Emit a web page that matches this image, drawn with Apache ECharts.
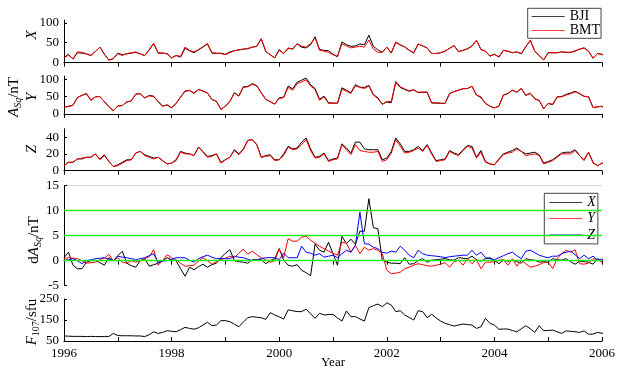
<!DOCTYPE html>
<html>
<head>
<meta charset="utf-8">
<script src="https://cdn.jsdelivr.net/npm/echarts@6/dist/echarts.min.js"></script>
<style>
html, body { margin: 0; padding: 0; background: #fff; }
#main { width: 618px; height: 374px; }
</style>
</head>
<body>
<div id="main"></div>
<script>
// monthly values, Jan 1996 .. Feb 2006
var startYear = 1996;
var yearTicks = [1996, 1998, 2000, 2002, 2004, 2006];

var xBJI = [13,21,9,25,24,22,18,28,39,21, 7,10,24,20,22,24,26,22,18,32, 48,24,24,23,12,18,14,36,30,25,
  32,39,47,24,23,24,21,27,30,32, 34,35,39,41,60,28,20,12,33,23, 36,34,47,39,37,45,65,33,31,30,
  21,15,52,45,41,42,47,45,69,41, 32,26,39,24,51,44,40,31,24,47, 42,37,23,23,25,29,36,43,28,31,
  35,42,56,33,29,17,21,14,31,29, 25,27,22,40,56,29,18,7,25,25, 25,27,26,26,29,34,37,29,11,23, 21,12];
var xBMT = [12,19,10,27,26,22,18,28,39,22, 6,10,23,18,23,25,27,22,18,33, 49,25,24,22,12,18,16,39,31,27,
  33,40,48,25,24,23,20,25,30,32, 34,36,39,41,60,29,20,12,31,23, 37,35,48,41,39,48,62,31,29,26,
  20,16,47,42,37,39,41,39,57,34, 26,26,39,25,52,45,39,32,25,47, 42,37,23,23,25,29,36,43,27,31,
  35,41,56,33,29,16,21,15,31,29, 25,27,23,40,56,29,18,7,25,25, 25,27,26,26,30,34,37,29,12,23, 21,12];

var yBJI = [19,22,25,47,53,58,39,49,50,35, 21,9,23,24,34,37,57,58,46,53, 51,35,22,26,18,30,48,65,67,59,
  70,66,60,41,36,13,22,36,61,52, 78,79,87,81,61,42,35,28,46,48, 80,72,91,97,103,84,73,42,51,32,
  31,31,75,68,61,84,77,76,82,56, 46,28,34,32,91,76,70,65,69,61, 62,62,31,31,30,30,58,64,68,72,
  73,79,54,47,30,22,17,22,54,58, 68,62,73,53,59,43,38,15,30,26, 49,50,56,60,65,58,50,49,18,20, 22,7];
var yBMT = [19,21,24,47,53,59,39,49,50,35, 20,9,22,24,35,37,57,58,46,52, 49,36,22,25,17,30,49,66,68,60,
  70,65,60,42,36,13,22,35,60,51, 76,78,85,80,60,42,35,28,44,47, 76,68,87,92,98,80,70,39,49,30,
  30,30,71,65,59,81,76,73,80,54, 44,27,36,35,94,78,72,66,70,62, 63,63,32,32,31,30,59,64,68,73,
  73,80,54,49,30,22,17,22,54,59, 68,63,73,54,60,44,39,15,30,28, 49,49,54,58,63,59,51,49,18,20, 22,8];

var zBJI = [6,10,10,14,14,16,16,20,14,19, 11,5,7,10,13,13,21,23,19,17, 15,16,12,8,9,13,23,21,20,18,
  28,23,17,18,20,10,13,16,25,20, 26,36,37,31,16,18,19,13,13,20, 29,26,27,34,39,26,16,17,21,12,
  14,15,32,27,21,34,34,26,25,25, 25,13,15,23,39,32,23,23,25,29, 24,31,21,12,13,14,24,21,19,25,
  30,29,16,24,11,8,7,14,20,22, 24,27,23,20,21,22,19,9,11,13, 17,21,22,22,25,18,13,22,10,6, 9,8];
var zBMT = [6,10,10,14,15,16,16,20,13,18, 11,5,6,9,12,13,21,23,18,16, 14,16,12,8,9,12,22,20,20,18,
  28,22,16,17,20,9,13,16,24,19, 25,36,37,31,16,17,18,12,13,18, 28,25,26,31,37,24,15,16,20,11,
  13,14,31,25,19,31,24,23,22,22, 23,11,13,21,37,29,21,22,24,27, 23,30,20,11,12,13,23,20,18,24,
  29,27,15,22,10,8,7,13,19,21, 22,26,23,18,19,20,18,8,10,12, 16,20,20,20,24,18,12,22,9,6, 9,8];

var dX = [0.6,1.7,-0.9,-1.6,-1.6,-0.3,0,0.1,-0.4,-0.9, 0.6,0,1,1.9,-0.5,-1,-1.3,0,0.4,-1.1,
  -0.8,-0.5,0,0.6,0.2,0,-1.6,-3.1,-1.3,-1.8, -1.2,-0.7,-1.3,-0.8,-0.5,0.6,1.5,2.2,0,-0.2,
  -0.3,-0.5,0.2,0.2,0.2,-0.6,0,0.4,2.4,0.1, -0.9,-1.1,-0.8,-1.9,-2.4,-3,3.3,2.1,1.7,3.7,
  1.4,-0.9,4.9,3.4,4.3,3.3,5.9,5.9,12.4,6.6, 6.4,0.1,-0.3,-0.5,-0.5,-0.6,0.6,-0.7,-0.6,0,
  0.4,-0.3,0.1,0.2,0.3,0.4,0.2,0.1,0.6,0.5, 0.4,0.9,0.2,-0.1,0.4,0.6,0.1,-0.6,0.1,-0.1,
  0.1,-0.2,-0.5,0.4,0.2,0.1,-0.3,-0.2,-0.3,0.4, 0.2,0.1,0.4,-0.2,-0.7,-0.1,-0.2,-0.3,-0.7,0.4, -0.1,-0.1];
var dY = [0.4,0.6,0.5,0.4,0,-0.5,-0.4,-0.3,0.2,0.5, 1.3,0,0.6,-0.3,-0.5,0,-0.3,0,0.4,0.8,
  2.2,-0.9,0,1.2,0.6,0.2,-0.5,-1.1,-1,-0.9, -0.1,0.6,0,-0.7,-0.2,0.2,0.5,0.9,0.6,1.5,
  2.3,1.3,1.9,1.2,0.6,0.2,-0.3,0,2.4,0.6, 4.4,3.9,3.9,4.7,4.9,4.1,3.5,2.9,2.4,1.9,
  1.5,1.1,3.7,3.5,1.7,3.1,1.4,2.7,2.1,2.4, 2.1,1.4,-1.9,-2.6,-2.5,-2.3,-1.6,-1.3,-0.9,-0.6,
  -0.8,-1,-1.1,-0.9,-0.7,-0.4,-1.3,-0.2,0.1,-0.9, 0.4,-0.6,0.2,-1.6,-0.3,-0.3,-0.2,0.1,0.2,-0.9,
  0.4,-1.1,0.1,-0.6,-1.3,-1.1,-0.8,-0.4,-0.3,-1.6, 0.4,1.4,2.1,1.7,2.2,-0.6,-0.7,-0.5,0.4,0.2, -0.3,-0.6];
var dZ = [0,0.2,0.4,0,-0.6,0,0.2,0.4,0.5,0.6, 0.3,0,0.9,0.7,0.6,0.4,0.2,0.4,0.6,1,
  1.4,-0.3,-0.1,0,0.3,0.6,0.6,0.6,0.1,-0.3, 0.4,0.8,1.1,0.7,0.4,0.5,0.4,0.4,0.9,0.7,
  0.6,0.3,0,0.2,0.4,0.6,0.6,0.6,0.2,1.5, 0.6,0.6,0.6,2.9,1.7,1.5,1.1,1.4,0.7,0.9,
  1.1,0.6,1.4,2.1,1.7,3.1,9.7,3.4,3.3,2.7, 2.4,1.7,1.5,1.9,1.7,2.9,2.1,1.1,0.6,2.1,
  1.4,1.1,1,0.9,0.8,0.6,0.8,0.9,1,1.1, 1.1,2.1,1.1,1.7,0.6,0.4,0.2,0.6,1,1.4,
  1.7,1,0.4,1.9,2.1,1.6,1.1,0.8,0.6,0.9, 0.9,1.4,1.7,1.9,1.2,0.4,1.1,0.4,0.9,0.2, 0.3,0.4];

var f107 = [74,73,72,72,72,71,72,71,71,71, 71,86,76,75,75,75,74,74,71,80, 94,86,91,99,96,94,104,115,110,106,
  113,126,139,123,126,147,147,142,130,118, 140,161,166,163,161,153,185,174,165,155,
  198,194,190,190,201,180,158,182,174,176, 177,160,145,193,166,166,155,145,209,218,
  226,213,232,221,190,194,174,162,150,194, 190,161,177,160,145,134,128,121,126,131,
  128,126,110,118,158,134,126,106,107,107, 100,94,108,123,108,91,123,99,100,102,
  94,86,98,96,94,91,98,82,83,91, 87,83];

var SERIF = '"Liberation Serif", "DejaVu Serif", serif';
var LINE_ICON = 'path://M0,0h40v1h-40z';

function pairs(vals) {
  return vals.map(function (v, i) { return [startYear + i / 12, v]; });
}

var ctx = document.createElement('canvas').getContext('2d');
function rotLabel(cx, cy, parts) {
  var total = 0;
  parts.forEach(function (p) {
    p.font = (p.it ? 'italic ' : '') + p.size + 'px ' + SERIF;
    ctx.font = p.font;
    p.w = ctx.measureText(p.t).width;
    total += p.w;
  });
  var x = -total / 2, kids = [];
  parts.forEach(function (p) {
    kids.push({ type: 'text', x: x, y: p.dy || 0,
      style: { text: p.t, font: p.font, fill: '#000', textAlign: 'left', textVerticalAlign: 'middle' } });
    x += p.w;
  });
  return { type: 'group', x: cx, y: cy, rotation: Math.PI / 2, silent: true, children: kids };
}

// grid layout: top, height, y range, y labels
var panels = [
  { top: 20, height: 44.3, min: -4, max: 107, labels: [0, 50, 100] },
  { top: 76, height: 41.3, min: -10, max: 109, labels: [0, 50, 100] },
  { top: 128.7, height: 42, min: 0, max: 50, labels: [0, 20, 40] },
  { top: 185.7, height: 100, min: -5, max: 15, labels: [-5, 0, 5, 10, 15] },
  { top: 299, height: 42, min: 50, max: 250, labels: [50, 150, 250] }
];

var grids = [], xAxes = [], yAxes = [];
panels.forEach(function (p, k) {
  var last = k === panels.length - 1;
  grids.push({ left: 64, right: 16, top: p.top, height: p.height });
  xAxes.push({
    type: 'value', gridIndex: k, min: 1996, max: 2006, interval: 1,
    axisLine: { show: true, lineStyle: { color: '#000', width: 1 } },
    axisTick: { show: true, inside: last, length: 4, lineStyle: { color: '#000' } },
    axisLabel: { show: last, margin: 6, color: '#000', fontFamily: SERIF, fontSize: 13,
      formatter: function (v) { return yearTicks.indexOf(v) >= 0 ? String(v) : ''; } },
    splitLine: { show: false }
  });
  yAxes.push({
    type: 'value', gridIndex: k, min: p.min, max: p.max, interval: k === 3 ? 1 : null,
    axisLine: { show: true, lineStyle: { color: '#000', width: 1 } },
    axisTick: { show: true, inside: true, length: 3, customValues: p.labels, lineStyle: { color: '#000' } },
    axisLabel: { margin: 5, color: '#000', fontFamily: SERIF, fontSize: 13, customValues: p.labels },
    splitLine: k === 3 ? { show: true, showMinLine: false, lineStyle: { color: '#d6d6d6', width: 1 } } : { show: false }
  });
});

function line(name, data, color, k, extra) {
  var s = {
    name: name, type: 'line', xAxisIndex: k, yAxisIndex: k, data: pairs(data),
    symbol: 'none', showSymbol: false, clip: false, animation: false,
    lineStyle: { color: color, width: 1 }, itemStyle: { color: color }
  };
  for (var key in extra || {}) s[key] = extra[key];
  return s;
}

var series = [
  line('BJI', xBJI, '#000', 0), line('BMT', xBMT, '#ff0000', 0),
  line('BJI', yBJI, '#000', 1), line('BMT', yBMT, '#ff0000', 1),
  line('BJI', zBJI, '#000', 2), line('BMT', zBMT, '#ff0000', 2),
  line('X', dX, '#000', 3, {
    markLine: { silent: true, symbol: ['none', 'none'], animation: false, label: { show: false },
      lineStyle: { color: '#22ee22', width: 1.3, type: 'solid' },
      data: [{ yAxis: 0 }, { yAxis: 5 }, { yAxis: 10 }] }
  }),
  line('Y', dY, '#ff0000', 3),
  line('Z', dZ, '#0000ff', 3),
  line('F107', f107, '#000', 4)
];

var chart = echarts.init(document.getElementById('main'), null, { renderer: 'canvas' });
chart.setOption({
  backgroundColor: '#fff',
  animation: false,
  textStyle: { fontFamily: SERIF },
  grid: grids,
  xAxis: xAxes,
  yAxis: yAxes,
  legend: [
    { data: ['BJI', 'BMT'], orient: 'vertical', left: 527.7, top: 8.3, icon: LINE_ICON, symbolKeepAspect: true,
      itemWidth: 33, itemHeight: 14, itemGap: 0,
      padding: [1, 1, 1, 4], borderColor: '#444', borderWidth: 1, backgroundColor: '#fff',
      textStyle: { fontFamily: SERIF, fontSize: 14, color: '#000', lineHeight: 14 } },
    { data: ['X', 'Y', 'Z'], orient: 'vertical', left: 544.3, top: 193.3, icon: LINE_ICON, symbolKeepAspect: true,
      itemWidth: 33, itemHeight: 14, itemGap: 2.3,
      padding: [2, 2, 2, 5], borderColor: '#444', borderWidth: 1, backgroundColor: '#fff',
      textStyle: { fontFamily: SERIF, fontSize: 14, fontStyle: 'italic', color: '#000', lineHeight: 14 } }
  ],
  graphic: [
    rotLabel(32, 35, [{ t: 'X', it: true, size: 15 }]),
    rotLabel(32, 97, [{ t: 'Y', it: true, size: 15 }]),
    rotLabel(14, 97, [{ t: 'A', it: true, size: 15 }, { t: 'Sq', it: true, size: 10, dy: 4 }, { t: '/nT', size: 15 }]),
    rotLabel(32, 149, [{ t: 'Z', it: true, size: 15 }]),
    rotLabel(34, 240, [{ t: 'd', size: 15 }, { t: 'A', it: true, size: 15 }, { t: 'Sq', it: true, size: 10, dy: 4 }, { t: '/nT', size: 15 }]),
    rotLabel(32, 322, [{ t: 'F', it: true, size: 15 }, { t: '107', size: 10, dy: 4 }, { t: '/sfu', size: 15 }]),
    { type: 'text', x: 333, y: 363, silent: true,
      style: { text: 'Year', font: '13px ' + SERIF, fill: '#000', textAlign: 'center', textVerticalAlign: 'middle' } }
  ],
  series: series
});
</script>
</body>
</html>
